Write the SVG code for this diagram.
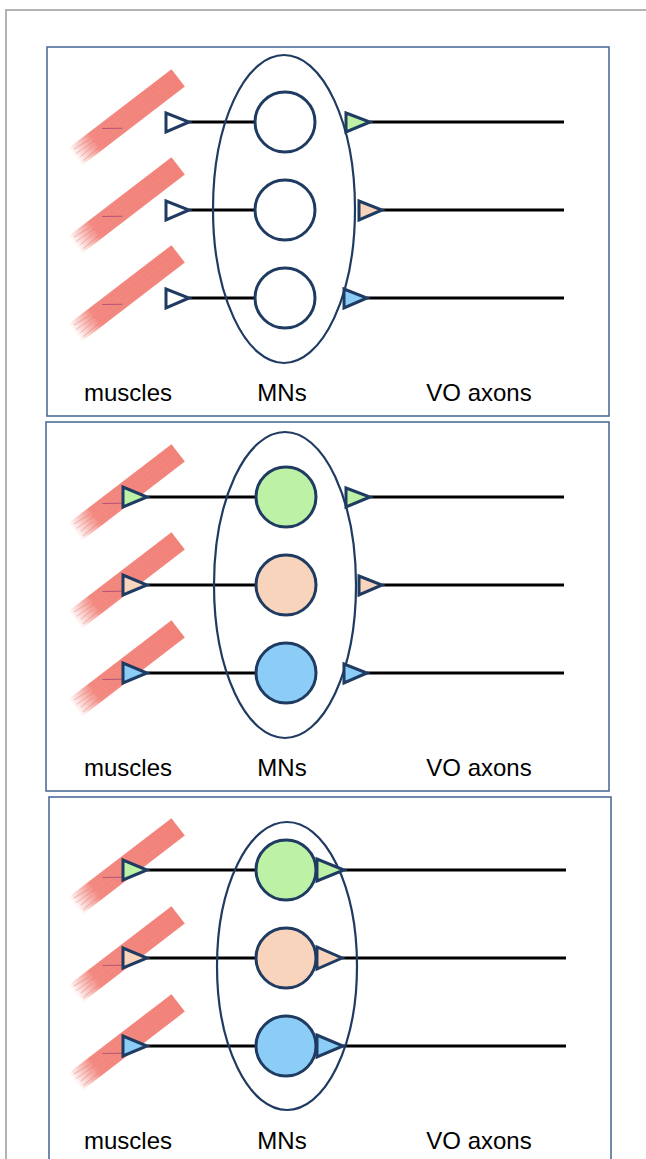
<svg xmlns="http://www.w3.org/2000/svg" width="646" height="1159" viewBox="0 0 646 1159">
  <style>
    .frame { fill: none; stroke: #9a9a9a; stroke-width: 1.5; }
    .panel { fill: #ffffff; stroke: #4f6d98; stroke-width: 1.6; }
    .pool { fill: none; stroke: #1f3b62; stroke-width: 2.2; }
    .mn { stroke: #1f3b62; stroke-width: 3; }
    .syn { stroke: #1f3b62; stroke-width: 3; stroke-linejoin: miter; }
    .axon { stroke: #000000; stroke-width: 3; fill: none; }
    .open { fill: #ffffff; }
    .green { fill: #bdf1a6; }
    .peach { fill: #f7d4bb; }
    .blue { fill: #8bcdf6; }
    .label { font-family: "Liberation Sans", Arial, sans-serif; font-size: 24px; fill: #000000; text-anchor: middle; }
  </style>
  <defs>
    <linearGradient id="fade" x1="0" y1="0" x2="1" y2="0">
      <stop offset="0" stop-color="#f2837a" stop-opacity="0"/>
      <stop offset="0.2" stop-color="#f2837a" stop-opacity="0.95"/>
      <stop offset="1" stop-color="#f2837a" stop-opacity="1"/>
    </linearGradient>
    <!-- muscle strip, drawn along +x from its frayed end -->
    <g id="muscle">
      <rect x="0" y="-11" width="130" height="22" fill="url(#fade)"/>
      <path d="M4,-7 L22,-5 M3,-2 L26,-1 M5,3 L20,2 M4,8 L24,7" stroke="#e06a66" stroke-width="1" opacity="0.35"/>
      <path d="M30,-8 L130,-8 M30,-3 L130,-3 M30,2 L130,2 M30,7 L130,7" stroke="#e87670" stroke-width="0.6" opacity="0.3"/>
      <line x1="39" y1="-6" x2="55" y2="6" stroke="#a8487a" stroke-width="1" opacity="0.8"/>
    </g>
  </defs>

  <!-- outer frame -->
  <path class="frame" d="M6,1159 L6,10 L646,10"/>

  <!-- ===== panel 1 ===== -->
  <g id="panel1">
    <rect class="panel" x="47" y="47" width="562" height="369"/>
    <g id="p1-muscles">
      <use href="#muscle" transform="translate(75,157) rotate(-37.5)"/>
      <use href="#muscle" transform="translate(75,245) rotate(-37.5)"/>
      <use href="#muscle" transform="translate(75,333) rotate(-37.5)"/>
    </g>
    <g id="p1-connectors">
      <line class="axon" x1="189" y1="122" x2="256" y2="122"/>
      <line class="axon" x1="189" y1="210" x2="256" y2="210"/>
      <line class="axon" x1="189" y1="298" x2="256" y2="298"/>
      <line class="axon" x1="370" y1="122" x2="564" y2="122"/>
      <line class="axon" x1="382" y1="210" x2="564" y2="210"/>
      <line class="axon" x1="367" y1="298" x2="564" y2="298"/>
    </g>
    <g id="p1-pool"><ellipse class="pool" cx="284" cy="209" rx="71" ry="154"/></g>
    <g id="p1-mn1"><circle class="mn open" cx="285" cy="122" r="30"/></g>
    <g id="p1-mn2"><circle class="mn open" cx="285" cy="210" r="30"/></g>
    <g id="p1-mn3"><circle class="mn open" cx="285" cy="298" r="30"/></g>
    <g id="p1-nmj">
      <polygon class="syn open" points="166,113 166,132 189,122"/>
      <polygon class="syn open" points="166,201 166,220 189,210"/>
      <polygon class="syn open" points="166,289 166,308 189,298"/>
    </g>
    <g id="p1-vo">
      <polygon class="syn green" points="346,113 346,132 370,122"/>
      <polygon class="syn peach" points="359,201 359,220 382,210"/>
      <polygon class="syn blue" points="344,289 344,308 367,298"/>
    </g>
    <text class="label" x="128" y="401">muscles</text>
    <text class="label" x="282" y="401">MNs</text>
    <text class="label" x="479" y="401">VO axons</text>
  </g>

  <!-- ===== panel 2 ===== -->
  <g id="panel2">
    <rect class="panel" x="46" y="422" width="563" height="369"/>
    <g id="p2-muscles">
      <use href="#muscle" transform="translate(75,532) rotate(-37.5)"/>
      <use href="#muscle" transform="translate(75,620) rotate(-37.5)"/>
      <use href="#muscle" transform="translate(75,708) rotate(-37.5)"/>
    </g>
    <g id="p2-connectors">
      <line class="axon" x1="147" y1="497" x2="256" y2="497"/>
      <line class="axon" x1="147" y1="585" x2="256" y2="585"/>
      <line class="axon" x1="147" y1="673" x2="256" y2="673"/>
      <line class="axon" x1="370" y1="497" x2="564" y2="497"/>
      <line class="axon" x1="382" y1="585" x2="564" y2="585"/>
      <line class="axon" x1="367" y1="673" x2="564" y2="673"/>
    </g>
    <g id="p2-pool"><ellipse class="pool" cx="285" cy="585" rx="71" ry="153"/></g>
    <g id="p2-mn1"><circle class="mn green" cx="286" cy="497" r="30"/></g>
    <g id="p2-mn2"><circle class="mn peach" cx="286" cy="585" r="30"/></g>
    <g id="p2-mn3"><circle class="mn blue" cx="286" cy="673" r="30"/></g>
    <g id="p2-nmj">
      <polygon class="syn green" points="123,487 123,507 147,497"/>
      <polygon class="syn peach" points="123,575 123,595 147,585"/>
      <polygon class="syn blue" points="123,663 123,683 147,673"/>
    </g>
    <g id="p2-vo">
      <polygon class="syn green" points="346,488 346,507 370,497"/>
      <polygon class="syn peach" points="359,576 359,595 382,585"/>
      <polygon class="syn blue" points="344,664 344,683 367,673"/>
    </g>
    <text class="label" x="128" y="776">muscles</text>
    <text class="label" x="282" y="776">MNs</text>
    <text class="label" x="479" y="776">VO axons</text>
  </g>

  <!-- ===== panel 3 ===== -->
  <g id="panel3">
    <rect class="panel" x="49" y="797" width="562" height="380"/>
    <g id="p3-muscles">
      <use href="#muscle" transform="translate(75,906) rotate(-37.5)"/>
      <use href="#muscle" transform="translate(75,994) rotate(-37.5)"/>
      <use href="#muscle" transform="translate(75,1082) rotate(-37.5)"/>
    </g>
    <g id="p3-connectors">
      <line class="axon" x1="147" y1="870" x2="257" y2="870"/>
      <line class="axon" x1="147" y1="958" x2="257" y2="958"/>
      <line class="axon" x1="147" y1="1046" x2="257" y2="1046"/>
      <line class="axon" x1="344" y1="870" x2="566" y2="870"/>
      <line class="axon" x1="342" y1="958" x2="566" y2="958"/>
      <line class="axon" x1="343" y1="1046" x2="566" y2="1046"/>
    </g>
    <g id="p3-pool"><ellipse class="pool" cx="287" cy="966" rx="70" ry="144"/></g>
    <g id="p3-mn1"><circle class="mn green" cx="286" cy="870" r="30"/></g>
    <g id="p3-mn2"><circle class="mn peach" cx="286" cy="958" r="30"/></g>
    <g id="p3-mn3"><circle class="mn blue" cx="286" cy="1046" r="30"/></g>
    <g id="p3-nmj">
      <polygon class="syn green" points="123,860 123,880 147,870"/>
      <polygon class="syn peach" points="123,948 123,968 147,958"/>
      <polygon class="syn blue" points="123,1036 123,1056 147,1046"/>
    </g>
    <g id="p3-vo">
      <polygon class="syn green" points="317,859 317,881 344,870"/>
      <polygon class="syn peach" points="317,947 317,969 342,958"/>
      <polygon class="syn blue" points="317,1035 317,1057 343,1046"/>
    </g>
    <text class="label" x="128" y="1149">muscles</text>
    <text class="label" x="282" y="1149">MNs</text>
    <text class="label" x="479" y="1149">VO axons</text>
  </g>
</svg>
